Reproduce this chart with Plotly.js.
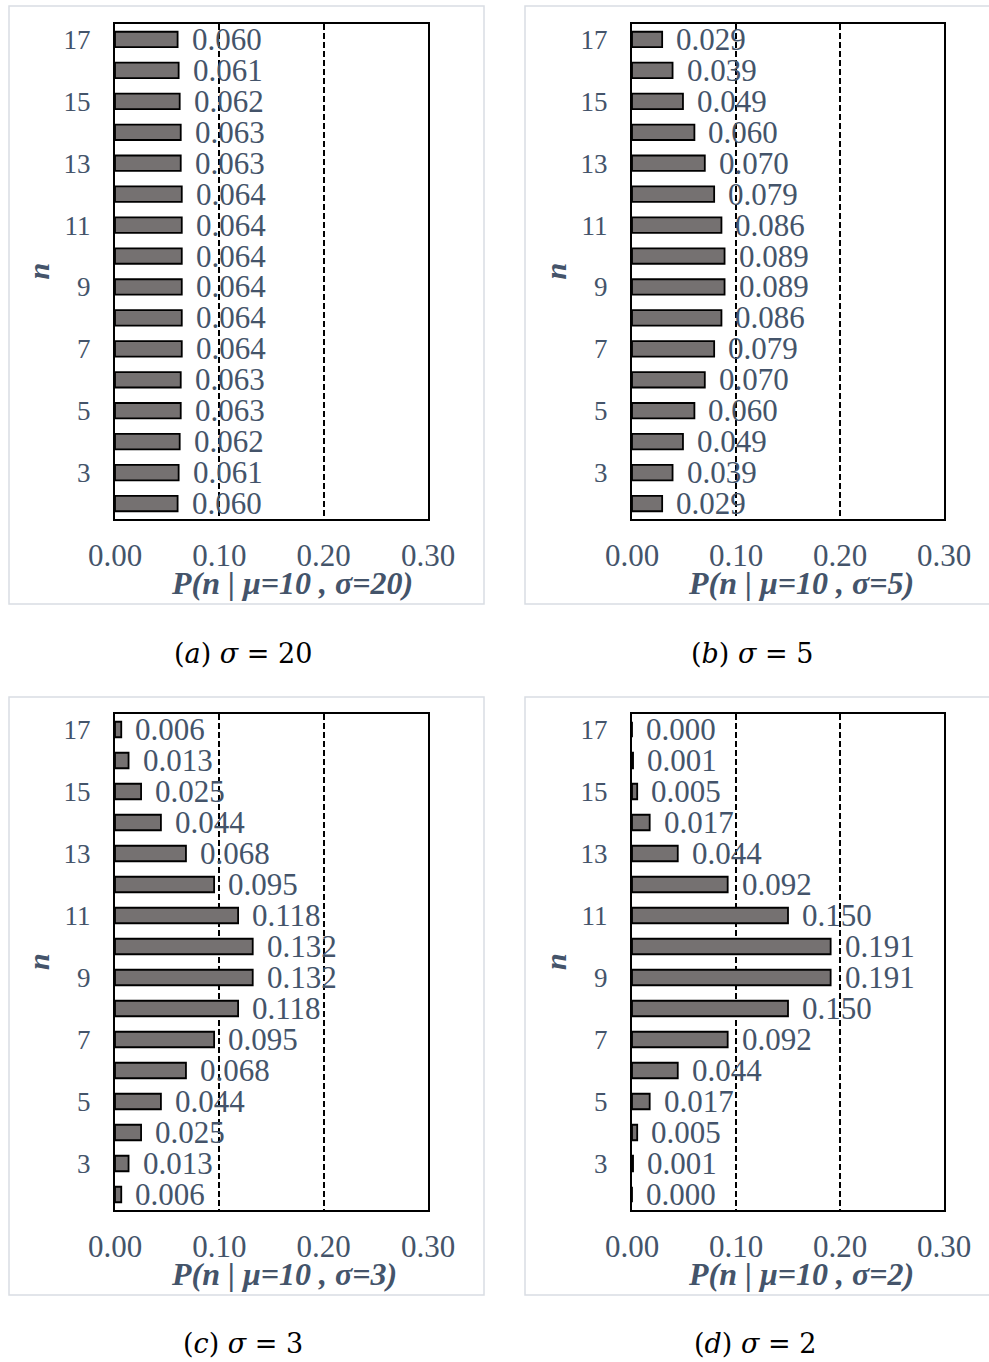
<!DOCTYPE html>
<html>
<head>
<meta charset="utf-8">
<script src="https://cdn.plot.ly/plotly-3.0.1.min.js"></script>
<style>html,body{margin:0;padding:0;background:#fff;}#chart{width:989px;height:1362px;}</style>
</head>
<body>
<div id="chart"></div>
<script>
// ---- data ----
const nValues = [2,3,4,5,6,7,8,9,10,11,12,13,14,15,16,17];
const probSigma20 = [0.060,0.061,0.062,0.063,0.063,0.064,0.064,0.064,0.064,0.064,0.064,0.063,0.063,0.062,0.061,0.060];
const probSigma5  = [0.029,0.039,0.049,0.060,0.070,0.079,0.086,0.089,0.089,0.086,0.079,0.070,0.060,0.049,0.039,0.029];
const probSigma3  = [0.006,0.013,0.025,0.044,0.068,0.095,0.118,0.132,0.132,0.118,0.095,0.068,0.044,0.025,0.013,0.006];
const probSigma2  = [0.000,0.001,0.005,0.017,0.044,0.092,0.150,0.191,0.191,0.150,0.092,0.044,0.017,0.005,0.001,0.000];
const sigmaLabels = ['20','5','3','2'];
const panelLetters = ['a','b','c','d'];
const xTickVals = [0, 0.1, 0.2, 0.3];
const xTickText = ['0.00','0.10','0.20','0.30'];
const yTickVals = [3,5,7,9,11,13,15,17];

// ---- layout helpers ----
const W = 989, H = 1362;
const px = v => v / W;
const py = v => 1 - v / H;
const TXT = '#44546A';
const SERIF = 'Liberation Serif, Times New Roman, serif';

const series = [probSigma20, probSigma5, probSigma3, probSigma2];
const plotBoxes = [
  {x0:115, x1:428, y0:24,  y1:519},
  {x0:632, x1:944, y0:24,  y1:519},
  {x0:115, x1:428, y0:714, y1:1210},
  {x0:632, x1:944, y0:714, y1:1210}
];
const panelFrames = [
  {x0:9,   x1:484, y0:6,   y1:604},
  {x0:525, x1:1000, y0:6,  y1:604},
  {x0:9,   x1:484, y0:697, y1:1295},
  {x0:525, x1:1000, y0:697, y1:1295}
];
const captionPos = [{x:243,y:653},{x:752,y:653},{x:243,y:1343},{x:755,y:1343}];

const traces = [];
const layout = {
  width: W, height: H,
  margin: {l:0, r:0, t:0, b:0},
  paper_bgcolor: '#fff', plot_bgcolor: '#fff',
  showlegend: false,
  annotations: [], shapes: []
};

series.forEach((vals, i) => {
  const k = i === 0 ? '' : String(i+1);
  const xa = 'x' + k, ya = 'y' + k;
  traces.push({
    type: 'bar', orientation: 'h',
    x: vals, y: nValues,
    xaxis: xa, yaxis: ya,
    width: 0.5,
    marker: {color: '#757171', line: {color: '#000', width: 1.8}},
    hoverinfo: 'skip'
  });
  const b = plotBoxes[i];
  layout['xaxis' + k] = {
    domain: [px(b.x0), px(b.x1)], anchor: ya,
    range: [0, 0.3], fixedrange: true,
    tickvals: xTickVals, ticktext: xTickText,
    ticks: 'outside', ticklen: 8, tickcolor: 'rgba(0,0,0,0)',
    tickfont: {family: SERIF, size: 31, color: TXT},
    showgrid: true, gridcolor: '#000', gridwidth: 1.8, griddash: '6px,3px',
    zeroline: false,
    showline: true, linecolor: '#000', linewidth: 2, mirror: true
  };
  layout['yaxis' + k] = {
    domain: [py(b.y1), py(b.y0)], anchor: xa,
    range: [1.5, 17.5], fixedrange: true,
    tickvals: yTickVals,
    ticks: 'outside', ticklen: 17, tickcolor: 'rgba(0,0,0,0)',
    tickfont: {family: SERIF, size: 27, color: TXT},
    showgrid: false, zeroline: false,
    showline: true, linecolor: '#000', linewidth: 2, mirror: true
  };
  // value labels
  vals.forEach((v, j) => {
    layout.annotations.push({
      xref: xa, yref: ya, x: v, y: nValues[j],
      text: v.toFixed(3), showarrow: false,
      xanchor: 'left', yanchor: 'middle', xshift: 12,
      font: {family: SERIF, size: 31, color: TXT}
    });
  });
  // x title
  layout.annotations.push({
    xref: xa + ' domain', yref: 'paper', x: 0, y: py(b.y1 + 64),
    xanchor: 'left', yanchor: 'middle', xshift: 54,
    text: '<b><i>P(n | μ=10 , σ=' + sigmaLabels[i] + ')</i></b>',
    showarrow: false,
    font: {family: SERIF, size: 32, color: TXT}
  });
  // y title
  layout.annotations.push({
    xref: xa + ' domain', yref: ya + ' domain', x: 0, y: 0.5,
    xanchor: 'center', yanchor: 'middle', xshift: -77,
    text: '<b><i>n</i></b>', textangle: -90, showarrow: false,
    font: {family: SERIF, size: 30, color: TXT}
  });
  // caption
  const c = captionPos[i];
  layout.annotations.push({
    xref: 'paper', yref: 'paper', x: px(c.x), y: py(c.y),
    xanchor: 'center', yanchor: 'middle',
    text: '(<i>' + panelLetters[i] + '</i>) <i>σ</i> = ' + sigmaLabels[i],
    showarrow: false,
    font: {family: 'DejaVu Serif, serif', size: 27, color: '#000'}
  });
  // panel frame
  const f = panelFrames[i];
  layout.shapes.push({
    type: 'rect', xref: 'paper', yref: 'paper', layer: 'below',
    x0: px(f.x0), x1: px(f.x1), y0: py(f.y1), y1: py(f.y0),
    line: {color: '#D9DDE3', width: 1.5}
  });
});

Plotly.newPlot('chart', traces, layout, {staticPlot: true, displayModeBar: false});
</script>
</body>
</html>
